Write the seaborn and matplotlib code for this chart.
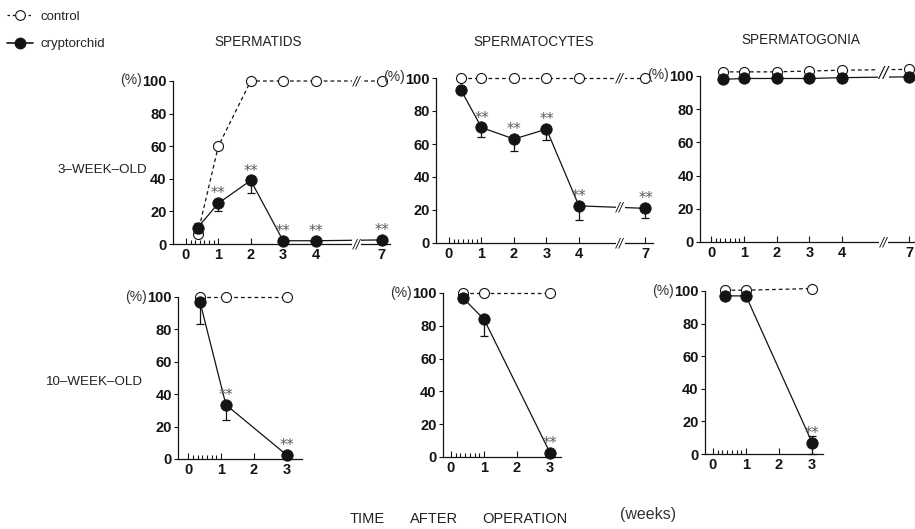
import numpy as np
import pandas as pd
import matplotlib
matplotlib.use("Agg")
import matplotlib.pyplot as plt
from matplotlib import font_manager
from matplotlib.font_manager import FontProperties
from matplotlib.lines import Line2D
import seaborn as sns

# ---------------------------------------------------------------- data
# time after operation (weeks)
weeks_3wk = [0.36, 1, 2, 3, 4, 7]
weeks_10wk_spermatids = [0.36, 1.15, 3]
weeks_10wk_other = [0.36, 1, 3]

# 3-week-old animals (% of cell population retained)
spermatids_3wk_control = [6, 60, 100, 100, 100, 100]
spermatids_3wk_crypt = [10, 25, 39, 2, 2, 2.5]
spermatids_3wk_err_lo = [3, 4.5, 7.5, 0, 0, 0]
spermatids_3wk_err_hi = [3, 0, 0, 0, 0, 0]
spermatids_3wk_signif = [False, True, True, True, True, True]

spermatocytes_3wk_control = [100, 100, 100, 100, 100, 100]
spermatocytes_3wk_crypt = [93, 70, 63, 69, 22.5, 21]
spermatocytes_3wk_err_lo = [0, 5.5, 7, 6.5, 8.5, 6]
spermatocytes_3wk_err_hi = [0, 0, 0, 0, 0, 0]
spermatocytes_3wk_signif = [False, True, True, True, True, True]

spermatogonia_3wk_control = [102.5, 102.5, 102.5, 103, 103.5, 104]
spermatogonia_3wk_crypt = [98, 98.5, 98.5, 98.5, 99, 99.5]
spermatogonia_3wk_err_lo = [0, 0, 0, 0, 0, 0]
spermatogonia_3wk_err_hi = [0, 0, 0, 0, 0, 0]
spermatogonia_3wk_signif = [False] * 6

# 10-week-old animals
spermatids_10wk_control = [100, 100, 100]
spermatids_10wk_crypt = [97, 33.5, 2.5]
spermatids_10wk_err_lo = [13.5, 9.5, 0]
spermatids_10wk_err_hi = [0, 0, 0]
spermatids_10wk_signif = [False, True, True]

spermatocytes_10wk_control = [100, 100, 100]
spermatocytes_10wk_crypt = [97, 84, 2.5]
spermatocytes_10wk_err_lo = [0, 10, 0]
spermatocytes_10wk_err_hi = [0, 0, 0]
spermatocytes_10wk_signif = [False, False, True]

spermatogonia_10wk_control = [100.5, 100.5, 101.5]
spermatogonia_10wk_crypt = [97, 97, 7]
spermatogonia_10wk_err_lo = [0, 0, 7]
spermatogonia_10wk_err_hi = [0, 0, 4]
spermatogonia_10wk_signif = [False, False, True]

cell_types = ["SPERMATIDS", "SPERMATOCYTES", "SPERMATOGONIA"]
age_labels = ["3\u2013WEEK\u2013OLD", "10\u2013WEEK\u2013OLD"]
y_ticks = [0, 20, 40, 60, 80, 100]
x_ticks_3wk = [0, 1, 2, 3, 4, 7]
x_ticks_10wk = [0, 1, 2, 3]


# ---------------------------------------------------------------- fonts
def pick_font(names):
    for n in names:
        try:
            font_manager.findfont(FontProperties(family=n), fallback_to_default=False)
            return n
        except Exception:
            continue
    return "DejaVu Sans"


sns.set_theme(style="ticks")
NUM_FONT = pick_font(["Liberation Sans Narrow", "Liberation Sans", "DejaVu Sans"])
TXT_FONT = pick_font(["Liberation Sans", "DejaVu Sans"])
plt.rcParams["font.family"] = [TXT_FONT, "DejaVu Sans"]
INK = "#141414"
TEXT_INK = "#222222"

# ---------------------------------------------------------------- broken time axis (4 -> 7 compressed)
K = 0.683
BREAK_W = 4 + 1.27 / K


def fwd(w):
    w = np.asarray(w, dtype=float)
    return np.where(w <= 4, w, 4 + (w - 4) * K)


def inv(p):
    p = np.asarray(p, dtype=float)
    return np.where(p <= 4, p, 4 + (p - 4) / K)


# ---------------------------------------------------------------- figure
W, H = 915, 529
fig = plt.figure(figsize=(W / 100, H / 100), dpi=100)
fig.patch.set_facecolor("white")


def px_axes(left, right, top, bottom):
    return fig.add_axes([left / W, 1 - bottom / H, (right - left) / W, (bottom - top) / H])


def break_mark(ax, x, y, size=8.5):
    ax.text(x, y, "//", ha="center", va="center", fontsize=size, color=INK,
            fontstyle="italic", family="DejaVu Sans",
            bbox=dict(fc="white", ec="none", pad=0.3), clip_on=False, zorder=6)


def draw_panel(ax, weeks, control, crypt, err_lo, err_hi, signif, broken, xlim, xticks):
    df = pd.DataFrame({"week": weeks, "control": control, "crypt": crypt})

    sns.lineplot(data=df, x="week", y="control", ax=ax, estimator=None, sort=False,
                 color=INK, linewidth=0.9, linestyle=(0, (3, 2.4)),
                 marker="o", markersize=7.2, markerfacecolor="white",
                 markeredgecolor=INK, markeredgewidth=0.8, clip_on=False,
                 legend=False, zorder=3)
    ax.errorbar(weeks, crypt, yerr=[err_lo, err_hi], fmt="none", ecolor=INK,
                elinewidth=0.9, capsize=3.2, capthick=0.9, clip_on=False, zorder=3)
    sns.lineplot(data=df, x="week", y="crypt", ax=ax, estimator=None, sort=False,
                 color=INK, linewidth=0.9, linestyle="-",
                 marker="o", markersize=8.2, markerfacecolor=INK,
                 markeredgecolor=INK, markeredgewidth=0.6, clip_on=False,
                 legend=False, zorder=4)

    for w, v, s in zip(weeks, crypt, signif):
        if s:
            ax.annotate("**", xy=(w, v), xytext=(0, 3.5), textcoords="offset points",
                        ha="center", va="baseline", fontsize=10.5, color="#5a5a5a",
                        family="DejaVu Sans", annotation_clip=False, zorder=5)

    if broken:
        ax.set_xscale("function", functions=(fwd, inv))
        pb = float(fwd(BREAK_W))
        # one break sign per line, merged with neighbours that sit close together
        ys = sorted(float(np.interp(pb, fwd(weeks), s)) for s in (control, crypt))
        ys = [0.0] + ys
        groups = []
        for y in ys:
            if groups and y - groups[-1][-1] < 8:
                groups[-1].append(y)
            else:
                groups.append([y])
        for g in groups:
            if g[0] == 0.0:
                break_mark(ax, BREAK_W, 0)
            elif len(g) > 1:
                break_mark(ax, BREAK_W, float(np.mean(g)), size=11)
            else:
                break_mark(ax, BREAK_W, g[0])

    ax.set_xlim(float(inv(xlim[0])) if broken else xlim[0],
                float(inv(xlim[1])) if broken else xlim[1])
    ax.set_ylim(0, 100)
    ax.set_xticks(xticks)
    ax.set_xticklabels([str(t) for t in xticks])
    ax.set_xticks([k / 7 for k in range(1, 7)], minor=True)
    ax.set_yticks(y_ticks)
    ax.set_yticklabels([str(t) for t in y_ticks])
    ax.set_xlabel("")
    ax.set_ylabel("")

    ax.tick_params(axis="x", which="major", direction="in", length=4.5, width=0.8,
                   color=INK, pad=3, labelsize=10.5)
    ax.tick_params(axis="x", which="minor", direction="in", length=2.6, width=0.8, color=INK)
    ax.tick_params(axis="y", which="major", direction="out", length=3, width=0.8,
                   color=INK, pad=1.5, labelsize=10.5)
    for lab in ax.get_xticklabels() + ax.get_yticklabels():
        lab.set_fontfamily(NUM_FONT)
        lab.set_fontweight("bold")
        lab.set_color(INK)

    for side in ("top", "right"):
        ax.spines[side].set_visible(False)
    for side in ("left", "bottom"):
        ax.spines[side].set_linewidth(0.9)
        ax.spines[side].set_color(INK)
    ax.set_facecolor("none")

    ax.annotate("(%)", xy=(0, 100), xycoords=("axes fraction", "data"),
                xytext=(-31, 0.5), textcoords="offset pixels", ha="right", va="center",
                fontsize=10, color="#333333", annotation_clip=False)


# axes frames (pixel rectangles: left, right, top, bottom)
ax11 = px_axes(173, 390, 81, 244)
ax12 = px_axes(436, 653, 78, 243)
ax13 = px_axes(700, 915, 76, 242)
ax21 = px_axes(178, 302, 297, 459)
ax22 = px_axes(443, 561, 293, 457)
ax23 = px_axes(705, 823, 291, 454)

draw_panel(ax11, weeks_3wk, spermatids_3wk_control, spermatids_3wk_crypt,
           spermatids_3wk_err_lo, spermatids_3wk_err_hi, spermatids_3wk_signif,
           True, (-0.40, 6.30), x_ticks_3wk)
draw_panel(ax12, weeks_3wk, spermatocytes_3wk_control, spermatocytes_3wk_crypt,
           spermatocytes_3wk_err_lo, spermatocytes_3wk_err_hi, spermatocytes_3wk_signif,
           True, (-0.40, 6.28), x_ticks_3wk)
draw_panel(ax13, weeks_3wk, spermatogonia_3wk_control, spermatogonia_3wk_crypt,
           spermatogonia_3wk_err_lo, spermatogonia_3wk_err_hi, spermatogonia_3wk_signif,
           True, (-0.34, 6.23), x_ticks_3wk)
draw_panel(ax21, weeks_10wk_spermatids, spermatids_10wk_control, spermatids_10wk_crypt,
           spermatids_10wk_err_lo, spermatids_10wk_err_hi, spermatids_10wk_signif,
           False, (-0.31, 3.47), x_ticks_10wk)
draw_panel(ax22, weeks_10wk_other, spermatocytes_10wk_control, spermatocytes_10wk_crypt,
           spermatocytes_10wk_err_lo, spermatocytes_10wk_err_hi, spermatocytes_10wk_signif,
           False, (-0.24, 3.33), x_ticks_10wk)
draw_panel(ax23, weeks_10wk_other, spermatogonia_10wk_control, spermatogonia_10wk_crypt,
           spermatogonia_10wk_err_lo, spermatogonia_10wk_err_hi, spermatogonia_10wk_signif,
           False, (-0.24, 3.33), x_ticks_10wk)

# column titles
for name, cx, cy in zip(cell_types, [258, 534, 801], [42, 42, 40]):
    fig.text(cx / W, 1 - cy / H, name, ha="center", va="center", fontsize=9.8, color=TEXT_INK)

# row labels
for name, rx, ry in zip(age_labels, [147, 143], [170, 382]):
    fig.text(rx / W, 1 - ry / H, name, ha="right", va="center", fontsize=9.6, color=TEXT_INK)

# common time label
for word, wx in zip(["TIME", "AFTER", "OPERATION"], [350, 410, 482]):
    fig.text(wx / W, 1 - 519 / H, word, ha="left", va="center", fontsize=10.5, color=TEXT_INK)
fig.text(620 / W, 1 - 515 / H, "(weeks)", ha="left", va="center", fontsize=11.5, color="#333333")

# legend
handles = [
    Line2D([], [], color=INK, lw=0.9, linestyle=(0, (2, 2.2)), marker="o", markersize=7,
           markerfacecolor="white", markeredgecolor=INK, markeredgewidth=0.8),
    Line2D([], [], color=INK, lw=1.2, linestyle="-", marker="o", markersize=7.5,
           markerfacecolor=INK, markeredgecolor=INK),
]
fig.legend(handles, ["control", "cryptorchid"], loc="upper left",
           bbox_to_anchor=(4 / W, 1 - 8 / H), frameon=False, fontsize=9.5,
           handlelength=2.0, handletextpad=0.6, labelspacing=1.15, borderpad=0.2,
           borderaxespad=0, numpoints=1, labelcolor=TEXT_INK)

fig.savefig("out.png", dpi=100, facecolor="white")
